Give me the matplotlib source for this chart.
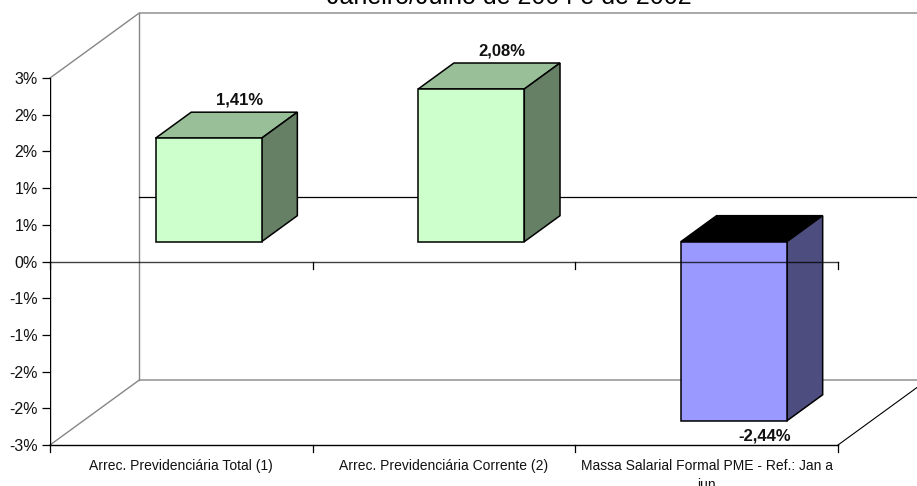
import matplotlib
matplotlib.use("Agg")
import matplotlib.pyplot as plt
from matplotlib.patches import Polygon

categories = ["Arrec. Previdenciária Total (1)", "Arrec. Previdenciária Corrente (2)",
              "Massa Salarial Formal PME - Ref.: Jan a\njun"]
values = [1.41, 2.08, -2.44]
value_labels = ["1,41%", "2,08%", "-2,44%"]
y_ticks = [-2.5, -2, -1.5, -1, -0.5, 0, 0.5, 1, 1.5, 2, 2.5]
y_tick_labels = ["-3%", "-2%", "-2%", "-1%", "-1%", "0%", "1%", "1%", "2%", "2%", "3%"]
title = "Janeiro/Julho de 2004 e de 2002"

W, H = 917, 486
plt.rcParams["font.family"] = ["Liberation Sans", "DejaVu Sans"]

fig = plt.figure(figsize=(W / 100, H / 100), dpi=100)
# front plane of the 3d box
left, right, top, bottom = 50, 838, 78, 445
ax = fig.add_axes([left / W, 1 - bottom / H, (right - left) / W, (bottom - top) / H])
ax.set_xlim(0, 3)
ax.set_ylim(-2.5, 2.5)
for s in ax.spines.values():
    s.set_visible(False)

px_x = (right - left) / 3
px_y = (bottom - top) / 5
DX = 89.3 / px_x   # depth of the box in data units
DY = 65 / px_y


def shift(x, y, d):
    return x + d * DX, y + d * DY


GRAY = "#868686"
# walls and floor
ax.plot([0, DX, 3 + DX], [2.5, 2.5 + DY, 2.5 + DY], color=GRAY, lw=1, clip_on=False, zorder=1)
ax.plot([DX, DX], [-2.5 + DY, 2.5 + DY], color=GRAY, lw=1, clip_on=False, zorder=1)
ax.plot([0, DX, 3 + DX], [-2.5, -2.5 + DY, -2.5 + DY], color=GRAY, lw=1, clip_on=False, zorder=1)
ax.plot([DX, 3 + DX], [DY, DY], color="black", lw=0.9, clip_on=False, zorder=1)
ax.plot([3, 3 + DX], [-2.5, -2.5 + DY], color="black", lw=0.8, clip_on=False, zorder=1)

# bars
bar_w = 0.404
d0, d1 = 0.305, 0.705
styles = [("#ccffcc", "#99bf99", "#668066"), ("#ccffcc", "#99bf99", "#668066"),
          ("#9999ff", "#000000", "#4d4d80")]
for i, v in enumerate(values):
    x0, x1 = i + 0.5 - bar_w / 2, i + 0.5 + bar_w / 2
    front_c, top_c, side_c = styles[i]
    front = [shift(x0, 0, d0), shift(x1, 0, d0), shift(x1, v, d0), shift(x0, v, d0)]
    side = [shift(x1, 0, d0), shift(x1, 0, d1), shift(x1, v, d1), shift(x1, v, d0)]
    lid_y = max(v, 0)
    lid = [shift(x0, lid_y, d0), shift(x1, lid_y, d0), shift(x1, lid_y, d1), shift(x0, lid_y, d1)]
    for pts, c in [(lid, top_c), (side, side_c), (front, front_c)]:
        ax.add_patch(Polygon(pts, closed=True, facecolor=c, edgecolor="black", lw=1.1,
                             clip_on=False, zorder=3))

# value labels
for i, (v, t) in enumerate(zip(values, value_labels)):
    off = 0.79 if v > 0 else 0.063
    ax.text(i + 0.72, v + off, t, fontsize=12, fontweight="bold", ha="center", va="center",
            color="#111111", zorder=5, clip_on=False)

# axes on top of the bars
ax.axvline(0, color="black", lw=1, zorder=4)
ax.plot([0, 3], [-2.5, -2.5], color="black", lw=1, clip_on=False, zorder=4)
ax.plot([0, 3], [0, 0], color="black", lw=1, alpha=0.75, clip_on=False, zorder=4)
for k in range(4):
    for base in (0, -2.5):
        ax.plot([k, k], [base, base - 7 / px_y], color="black", lw=0.9, clip_on=False, zorder=4)

ax.set_yticks(y_ticks)
ax.set_yticklabels(y_tick_labels, fontsize=11.5, color="#111111")
ax.tick_params(axis="y", length=6, width=0.9, pad=3)
ax.set_xticks([0.5, 1.5, 2.5])
ax.set_xticklabels(categories, fontsize=10, color="#111111", linespacing=1.45)
ax.tick_params(axis="x", length=0, pad=10)

fig.text(509 / W, 1 - 4 / H, title, fontsize=18, ha="center", va="baseline", color="black")

fig.savefig("out.png", dpi=100)
